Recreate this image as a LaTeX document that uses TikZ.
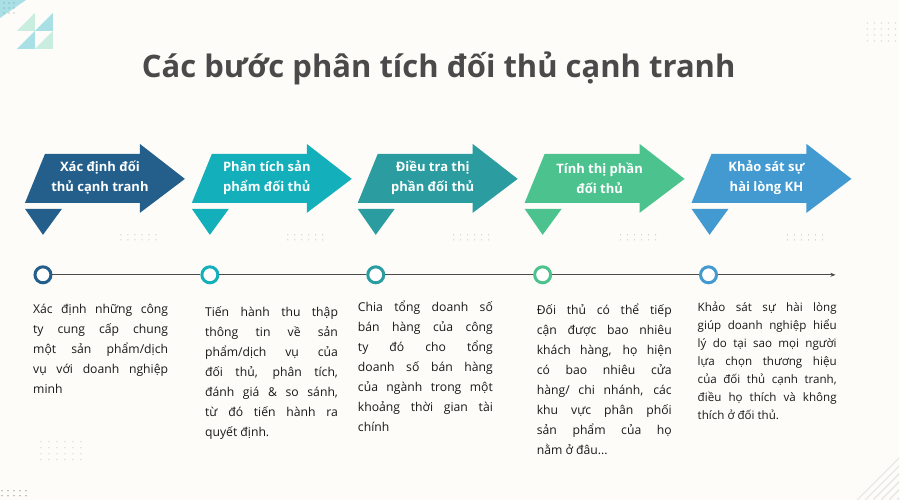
\documentclass[tikz,border=0pt]{standalone}
\usepackage{fontspec}
\setmainfont{Open Sans}
\usetikzlibrary{arrows.meta,positioning}
\definecolor{stepone}{HTML}{245F8C}
\definecolor{steptwo}{HTML}{13AFBA}
\definecolor{stepthree}{HTML}{2B9C9F}
\definecolor{stepfour}{HTML}{4CC38F}
\definecolor{stepfive}{HTML}{429AD1}
\definecolor{paper}{HTML}{FDFCF8}
\definecolor{titlegray}{HTML}{4A4A4A}
\definecolor{decocyan}{HTML}{A8E0E6}
\definecolor{decogreen}{HTML}{C9EEDF}

\begin{document}
\hyphenpenalty=10000
\exhyphenpenalty=10000
\begin{tikzpicture}[
    x=1pt, y=-1pt,
    bannertext/.style={text=white, font=\bfseries\fontsize{13}{20}\selectfont, align=center, inner sep=0},
    desc/.style={anchor=base west, inner sep=0, text width=135pt, align=justify, text=black!90, font=\fontsize{12.2}{20}\selectfont},
    ring/.style={circle, draw=#1, line width=3pt, fill=white, minimum size=16pt, inner sep=0},
    tline/.style={draw=black!70, line width=0.8pt},
    dot/.style={fill=black!18}
]

% Background and corner decoration
\fill[paper] (0,0) rectangle (900,500);
\fill[decocyan] (0,0) -- (26,0) -- (0,18) -- cycle;
\foreach \i in {0,1,2} \foreach \j in {0,1,2}
    \fill[black!45] (4+\i*5, 3+\j*5) circle (0.6);
\fill[decogreen] (35,13) -- (35,31) -- (17,31) -- cycle;
\fill[decocyan] (53,13) -- (53,31) -- (35,31) -- cycle;
\fill[decocyan] (35,31) -- (35,49) -- (17,49) -- cycle;
\fill[decogreen] (53,31) -- (53,49) -- (35,49) -- cycle;
\foreach \i in {0,...,4} \foreach \j in {0,...,3}
    \fill[dot] (868+\i*7, 23+\j*6) circle (0.7);
\foreach \i in {0,...,5} \foreach \j in {0,...,3}
    \fill[dot] (41+\i*8, 442+\j*6) circle (0.7);
\foreach \i in {0,...,4} \foreach \j in {0,1}
    \fill[black!55] (2+\i*6, 491+\j*5) circle (0.6);
\foreach \k in {0,...,5}
    \draw[black!10, line width=1.2pt] (858+\k*8,500) -- (900,458+\k*8);

% Title
\node[font=\bfseries\fontsize{31}{38}\selectfont, text=titlegray] (title) at (439,68) {Các bước phân tích đối thủ cạnh tranh};

% Banners
\foreach \x/\col in {25/stepone, 192/steptwo, 358/stepthree, 525/stepfour, 692/stepfive} {
    \fill[\col] (\x+20,154) -- (\x+115,154) -- (\x+115,144) -- (\x+160,179)
        -- (\x+115,213) -- (\x+115,203) -- (\x,203) -- cycle;
    \fill[\col] (\x,209) -- (\x+37,209) -- (\x+18,235) -- cycle;
    \foreach \i in {0,...,5} \foreach \j in {0,1}
        \fill[dot] (\x+96+\i*7, 235+\j*5) circle (0.7);
}
\node[bannertext] (b1) at (100,178) {Xác định đối\\thủ cạnh tranh};
\node[bannertext] (b2) at (267,178) {Phân tích sản\\phẩm đối thủ};
\node[bannertext] (b3) at (433,178) {Điều tra thị\\phần đối thủ};
\node[bannertext] (b4) at (600,178) {Tính thị phần\\đối thủ};
\node[bannertext] (b5) at (767,178) {Khảo sát sự\\hài lòng KH};

% Timeline
\node[ring=stepone] (t1) at (43,275) {};
\node[ring=steptwo] (t2) at (210,275) {};
\node[ring=stepthree] (t3) at (376,275) {};
\node[ring=stepfour] (t4) at (543,275) {};
\node[ring=stepfive] (t5) at (709,275) {};
\coordinate (tend) at (836,275);
\draw[tline] (t1) -- (t2);
\draw[tline] (t2) -- (t3);
\draw[tline] (t3) -- (t4);
\draw[tline] (t4) -- (t5);
\draw[tline, -{Stealth[length=5pt, width=4pt]}] (t5) -- (tend);

% Descriptions
\node[desc] (d1) at (33,314) {Xác định những công\linebreak ty cung cấp chung\linebreak một sản phẩm/dịch\linebreak vụ với doanh nghiệp\linebreak minh};
\node[desc, text width=133pt] (d2) at (205,317) {Tiến hành thu thập\linebreak thông tin về sản\linebreak phẩm/dịch vụ của\linebreak đối thủ, phân tích,\linebreak đánh giá \& so sánh,\linebreak từ đó tiến hành ra\linebreak quyết định.};
\node[desc] (d3) at (358,312) {Chia tổng doanh số\linebreak bán hàng của công\linebreak ty đó cho tổng\linebreak doanh số bán hàng\linebreak của ngành trong một\linebreak khoảng thời gian tài\linebreak chính};
\node[desc] (d4) at (537,315) {Đối thủ có thể tiếp\linebreak cận được bao nhiêu\linebreak khách hàng, họ hiện\linebreak có bao nhiêu cửa\linebreak hàng/ chi nhánh, các\linebreak khu vực phân phối\linebreak sản phẩm của họ\linebreak nằm ở đâu...};
\node[desc, text width=139pt, font=\fontsize{11.6}{18}\selectfont] (d5) at (698,312) {Khảo sát sự hài lòng\linebreak giúp doanh nghiệp hiểu\linebreak lý do tại sao mọi người\linebreak lựa chọn thương hiệu\linebreak của đối thủ cạnh tranh,\linebreak điều họ thích và không\linebreak thích ở đối thủ.};

\end{tikzpicture}
\end{document}
